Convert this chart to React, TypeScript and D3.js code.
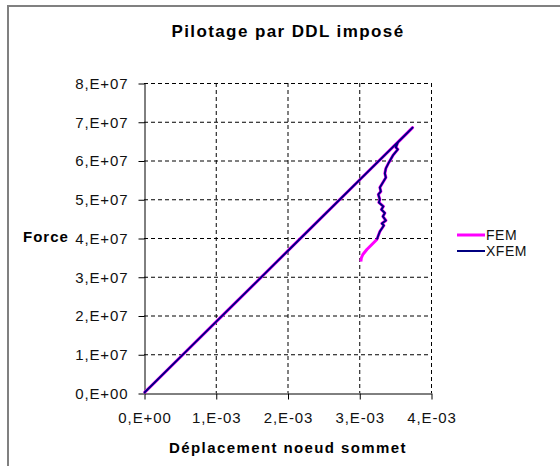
import React, { useEffect, useRef } from "react";
import * as d3 from "d3";

// loading branch (both models), displacement in m, force in N
const loadDisp = [0, 1.0e-3, 2.0e-3, 3.0e-3];
const loadForce = [0, 1.83e7, 3.66e7, 5.49e7];

// post-peak branch (XFEM)
const xfemDisp = [
  3.743e-3, 3.678e-3, 3.608e-3, 3.538e-3, 3.51e-3, 3.538e-3, 3.469e-3, 3.413e-3,
  3.371e-3, 3.357e-3, 3.371e-3, 3.329e-3, 3.287e-3, 3.301e-3, 3.266e-3, 3.287e-3,
  3.273e-3, 3.336e-3, 3.308e-3, 3.357e-3, 3.329e-3, 3.371e-3, 3.315e-3, 3.343e-3,
  3.287e-3, 3.245e-3,
];
const xfemForce = [
  6.848e7, 6.726e7, 6.597e7, 6.468e7, 6.339e7, 6.287e7, 6.132e7, 5.951e7,
  5.796e7, 5.667e7, 5.563e7, 5.434e7, 5.305e7, 5.202e7, 5.124e7, 4.995e7,
  4.917e7, 4.814e7, 4.736e7, 4.646e7, 4.556e7, 4.452e7, 4.375e7, 4.323e7,
  4.168e7, 3.961e7,
];

// FEM keeps going a bit further down
const femTailDisp = [3.176e-3, 3.106e-3, 3.05e-3, 3.029e-3, 3.022e-3];
const femTailForce = [3.832e7, 3.703e7, 3.574e7, 3.483e7, 3.393e7];

const xTicks = [0, 1e-3, 2e-3, 3e-3, 4e-3];
const yTicks = [0, 1e7, 2e7, 3e7, 4e7, 5e7, 6e7, 7e7, 8e7];

const series = [
  { name: "FEM", color: "#FF00FF", width: 3 },
  { name: "XFEM", color: "#000080", width: 2 },
];

const font = "'Liberation Sans', Arial, sans-serif";

const App = () => {
  const svgRef = useRef<SVGSVGElement>(null);

  useEffect(() => {
    const width = 560;
    const height = 466;
    const left = 144;
    const right = 431;
    const top = 83;
    const bottom = 393;

    const x = d3.scaleLinear().domain([0, 4e-3]).range([left, right]);
    const y = d3.scaleLinear().domain([0, 8e7]).range([bottom, top]);

    const svg = d3.select(svgRef.current);
    svg.selectAll("*").remove();
    svg
      .attr("width", width)
      .attr("height", height)
      .attr("viewBox", [0, 0, width, height])
      .style("background", "white")
      .style("font-family", font);

    // outer frame (cut by the picture on the right and bottom)
    svg
      .append("rect")
      .attr("x", 8)
      .attr("y", 6)
      .attr("width", 620)
      .attr("height", 520)
      .attr("fill", "none")
      .attr("stroke", "#808080")
      .attr("stroke-width", 2);

    // title
    svg
      .append("text")
      .attr("x", 288)
      .attr("y", 37)
      .attr("text-anchor", "middle")
      .style("font-size", "17px")
      .style("font-weight", "bold")
      .style("letter-spacing", "1.4px")
      .text("Pilotage par DDL imposé");

    // grid lines
    svg
      .append("g")
      .selectAll("line")
      .data(yTicks.slice(1))
      .join("line")
      .attr("x1", left)
      .attr("x2", right)
      .attr("y1", (d) => y(d) + 0.5)
      .attr("y2", (d) => y(d) + 0.5)
      .attr("stroke", "#000")
      .attr("stroke-dasharray", "4,3");
    svg
      .append("g")
      .selectAll("line")
      .data(xTicks.slice(1))
      .join("line")
      .attr("x1", (d) => x(d) + 0.5)
      .attr("x2", (d) => x(d) + 0.5)
      .attr("y1", top)
      .attr("y2", bottom)
      .attr("stroke", "#000")
      .attr("stroke-dasharray", "4,3");

    const fmtY = (v) => (v === 0 ? "0,E+00" : `${Math.round(v / 1e7)},E+07`);
    const fmtX = (v) => (v === 0 ? "0,E+00" : `${Math.round(v * 1e3)},E-03`);

    // y axis
    svg
      .append("g")
      .attr("transform", `translate(${left + 0.5},0.5)`)
      .call(
        d3
          .axisLeft(y)
          .tickValues(yTicks)
          .tickSize(6)
          .tickSizeOuter(0)
          .tickPadding(10)
          .tickFormat(fmtY),
      )
      .call((g) => g.selectAll("line, path").attr("stroke", "#000"))
      .call((g) =>
        g
          .selectAll("text")
          .attr("fill", "#111")
          .style("font-size", "15px")
          .style("font-family", font)
          .style("letter-spacing", "0.9px"),
      );

    // x axis
    svg
      .append("g")
      .attr("transform", `translate(0.5,${bottom + 0.5})`)
      .call(
        d3
          .axisBottom(x)
          .tickValues(xTicks)
          .tickSize(6)
          .tickSizeOuter(0)
          .tickPadding(13)
          .tickFormat(fmtX),
      )
      .call((g) => g.selectAll("line, path").attr("stroke", "#000"))
      .call((g) =>
        g
          .selectAll("text")
          .attr("fill", "#111")
          .style("font-size", "15px")
          .style("font-family", font)
          .style("letter-spacing", "0.9px"),
      );

    // axis titles
    svg
      .append("text")
      .attr("x", 288)
      .attr("y", 453)
      .attr("text-anchor", "middle")
      .style("font-size", "15px")
      .style("font-weight", "bold")
      .style("letter-spacing", "1.4px")
      .text("Déplacement noeud sommet");
    svg
      .append("text")
      .attr("x", 23)
      .attr("y", 242)
      .style("font-size", "15px")
      .style("font-weight", "bold")
      .style("letter-spacing", "1px")
      .text("Force");

    // curves
    const load = loadDisp.map((d, i) => [d, loadForce[i]]);
    const xfem = load.concat(xfemDisp.map((d, i) => [d, xfemForce[i]]));
    const fem = xfem.concat(femTailDisp.map((d, i) => [d, femTailForce[i]]));

    const line = d3
      .line()
      .x((d) => x(d[0]))
      .y((d) => y(d[1]));

    [fem, xfem].forEach((pts, i) => {
      svg
        .append("path")
        .attr("fill", "none")
        .attr("stroke", series[i].color)
        .attr("stroke-width", series[i].width)
        .attr("stroke-linejoin", "round")
        .attr("d", line(pts));
    });

    // legend
    const legend = svg
      .append("g")
      .selectAll("g")
      .data(series)
      .join("g")
      .attr("transform", (d, i) => `translate(457,${235 + i * 16})`);
    legend
      .append("line")
      .attr("x1", 0)
      .attr("x2", 28)
      .attr("stroke", (d) => d.color)
      .attr("stroke-width", (d) => d.width);
    legend
      .append("text")
      .attr("x", 29)
      .attr("dy", "0.35em")
      .attr("fill", "#111")
      .style("font-size", "14px")
      .style("letter-spacing", "0.5px")
      .text((d) => d.name);
  }, []);

  return (
    <svg
      ref={svgRef}
      style={{ position: "absolute", left: 0, top: 0, display: "block" }}
    />
  );
};

export default App;
